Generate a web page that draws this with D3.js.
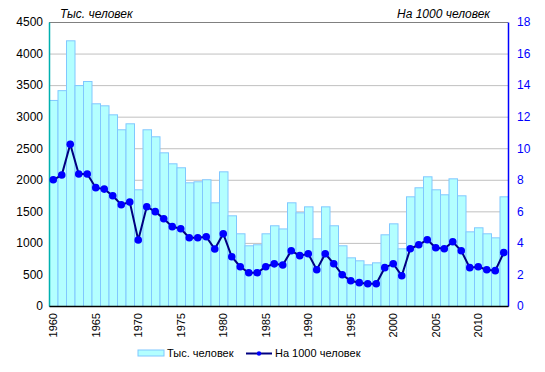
<!DOCTYPE html>
<html>
<head>
<meta charset="utf-8">
<script src="https://cdn.jsdelivr.net/npm/d3@7"></script>
<style>
  body { margin: 0; background: #fff; }
  svg { font-family: Arial, "Liberation Sans", sans-serif; }
</style>
</head>
<body>
<div id="chart"></div>
<script>
// years
const years = d3.range(1960, 2014)
// thousands of people (bars)
const thousands = [
  3265, 3420, 4210, 3500, 3565, 3212, 3180, 3037, 2800, 2895,
  1849, 2800, 2689, 2435, 2261, 2198, 1960, 1976, 2008, 1643,
  2134, 1437, 1152, 962, 978, 1152, 1279, 1229, 1643, 1484,
  1579, 1072, 1579, 1279, 962, 771, 724, 660, 692, 1136,
  1310, 914, 1738, 1881, 2055, 1849, 1770, 2023, 1754, 1183,
  1247, 1152, 1088, 1738
]
// per 1000 people (line)
const per1000 = [
  8.0, 8.3, 10.25, 8.37, 8.37, 7.5, 7.41, 6.99, 6.42, 6.59,
  4.18, 6.29, 5.98, 5.53, 5.03, 4.9, 4.33, 4.33, 4.39, 3.61,
  4.58, 3.12, 2.49, 2.11, 2.11, 2.49, 2.67, 2.6, 3.5, 3.19,
  3.31, 2.3, 3.31, 2.68, 1.98, 1.6, 1.48, 1.41, 1.41, 2.43,
  2.68, 1.92, 3.63, 3.88, 4.2, 3.69, 3.63, 4.07, 3.5, 2.43,
  2.49, 2.3, 2.24, 3.38
]
const leftTicks = d3.range(0, 4501, 500)
const rightTicks = d3.range(0, 19, 2)

const width = 545, height = 372
const marginLeft = 49, marginRight = 37, marginTop = 22, marginBottom = 66

const svg = d3.select("#chart").append("svg")
  .attr("width", width)
  .attr("height", height)

const x = d3.scaleBand(years, [marginLeft, width - marginRight]).padding(0)
const yL = d3.scaleLinear([0, 4500], [height - marginBottom, marginTop])
const yR = d3.scaleLinear([0, 18], [height - marginBottom, marginTop])

// grid
svg.append("g")
  .selectAll("line")
  .data(leftTicks.slice(1))
  .join("line")
  .attr("x1", marginLeft)
  .attr("x2", width - marginRight)
  .attr("y1", d => yL(d) + 0.5)
  .attr("y2", d => yL(d) + 0.5)
  .attr("stroke", d => d === 4500 ? "#808080" : "#c0c0c0")

// bars
svg.append("g")
  .selectAll("rect")
  .data(years)
  .join("rect")
  .attr("x", (d, i) => x(d) + 0.5)
  .attr("y", (d, i) => yL(thousands[i]) + 0.5)
  .attr("width", x.bandwidth())
  .attr("height", (d, i) => yL(0) - yL(thousands[i]))
  .attr("fill", "#b3ffff")
  .attr("stroke", "#80c8ff")
  .attr("stroke-width", 1)

// left axis
const axL = svg.append("g")
  .attr("transform", `translate(${marginLeft},0)`)
  .call(d3.axisLeft(yL).tickValues(leftTicks).tickFormat(d3.format("d")).tickSize(0).tickPadding(6))
axL.select(".domain").attr("stroke", "#00b0b0").attr("stroke-width", 1.5)
axL.selectAll("text").attr("font-size", 12).attr("fill", "#000").attr("font-family", "Arial, 'Liberation Sans', sans-serif")

// right axis
const axR = svg.append("g")
  .attr("transform", `translate(${width - marginRight},0)`)
  .call(d3.axisRight(yR).tickValues(rightTicks).tickFormat(d3.format("d")).tickSize(0).tickPadding(9))
axR.select(".domain").attr("stroke", "#0000ff").attr("stroke-width", 1.5)
axR.selectAll("text").attr("font-size", 12).attr("fill", "#0000ff").attr("font-family", "Arial, 'Liberation Sans', sans-serif")

// x axis
const axX = svg.append("g")
  .attr("transform", `translate(0,${height - marginBottom})`)
  .call(d3.axisBottom(x).tickValues(years.filter(d => d % 5 === 0)).tickSize(0).tickPadding(0))
axX.select(".domain").attr("stroke", "#000").attr("stroke-width", 1.5)
axX.selectAll("text")
  .attr("font-size", 11)
  .attr("fill", "#000")
  .attr("font-family", "Arial, 'Liberation Sans', sans-serif")
  .attr("transform", "rotate(-90)")
  .attr("text-anchor", "end")
  .attr("x", -7)
  .attr("y", 0)
  .attr("dy", "0.35em")

// line
const line = d3.line()
  .x((d, i) => x(years[i]) + x.bandwidth() / 2)
  .y(d => yR(d))
svg.append("path")
  .datum(per1000)
  .attr("fill", "none")
  .attr("stroke", "#000080")
  .attr("stroke-width", 2)
  .attr("d", line)
svg.append("g")
  .selectAll("circle")
  .data(per1000)
  .join("circle")
  .attr("cx", (d, i) => x(years[i]) + x.bandwidth() / 2)
  .attr("cy", d => yR(d))
  .attr("r", 3.8)
  .attr("fill", "#0000ff")

// axis titles
svg.append("text")
  .attr("x", 60).attr("y", 18)
  .attr("font-size", 12).attr("font-style", "italic")
  .text("Тыс. человек")
svg.append("text")
  .attr("x", 490).attr("y", 18)
  .attr("text-anchor", "end")
  .attr("font-size", 12).attr("font-style", "italic")
  .text("На 1000 человек")

// legend
const lg = svg.append("g").attr("font-size", 11)
lg.append("rect")
  .attr("x", 138).attr("y", 350).attr("width", 26).attr("height", 6)
  .attr("fill", "#b3ffff").attr("stroke", "#80c8ff")
lg.append("text").attr("x", 167).attr("y", 357).text("Тыс. человек")
lg.append("line")
  .attr("x1", 246).attr("x2", 272).attr("y1", 353.5).attr("y2", 353.5)
  .attr("stroke", "#000080").attr("stroke-width", 2)
lg.append("circle").attr("cx", 259).attr("cy", 353.5).attr("r", 2.2).attr("fill", "#0000ff")
lg.append("text").attr("x", 275).attr("y", 357).text("На 1000 человек")
</script>
</body>
</html>
